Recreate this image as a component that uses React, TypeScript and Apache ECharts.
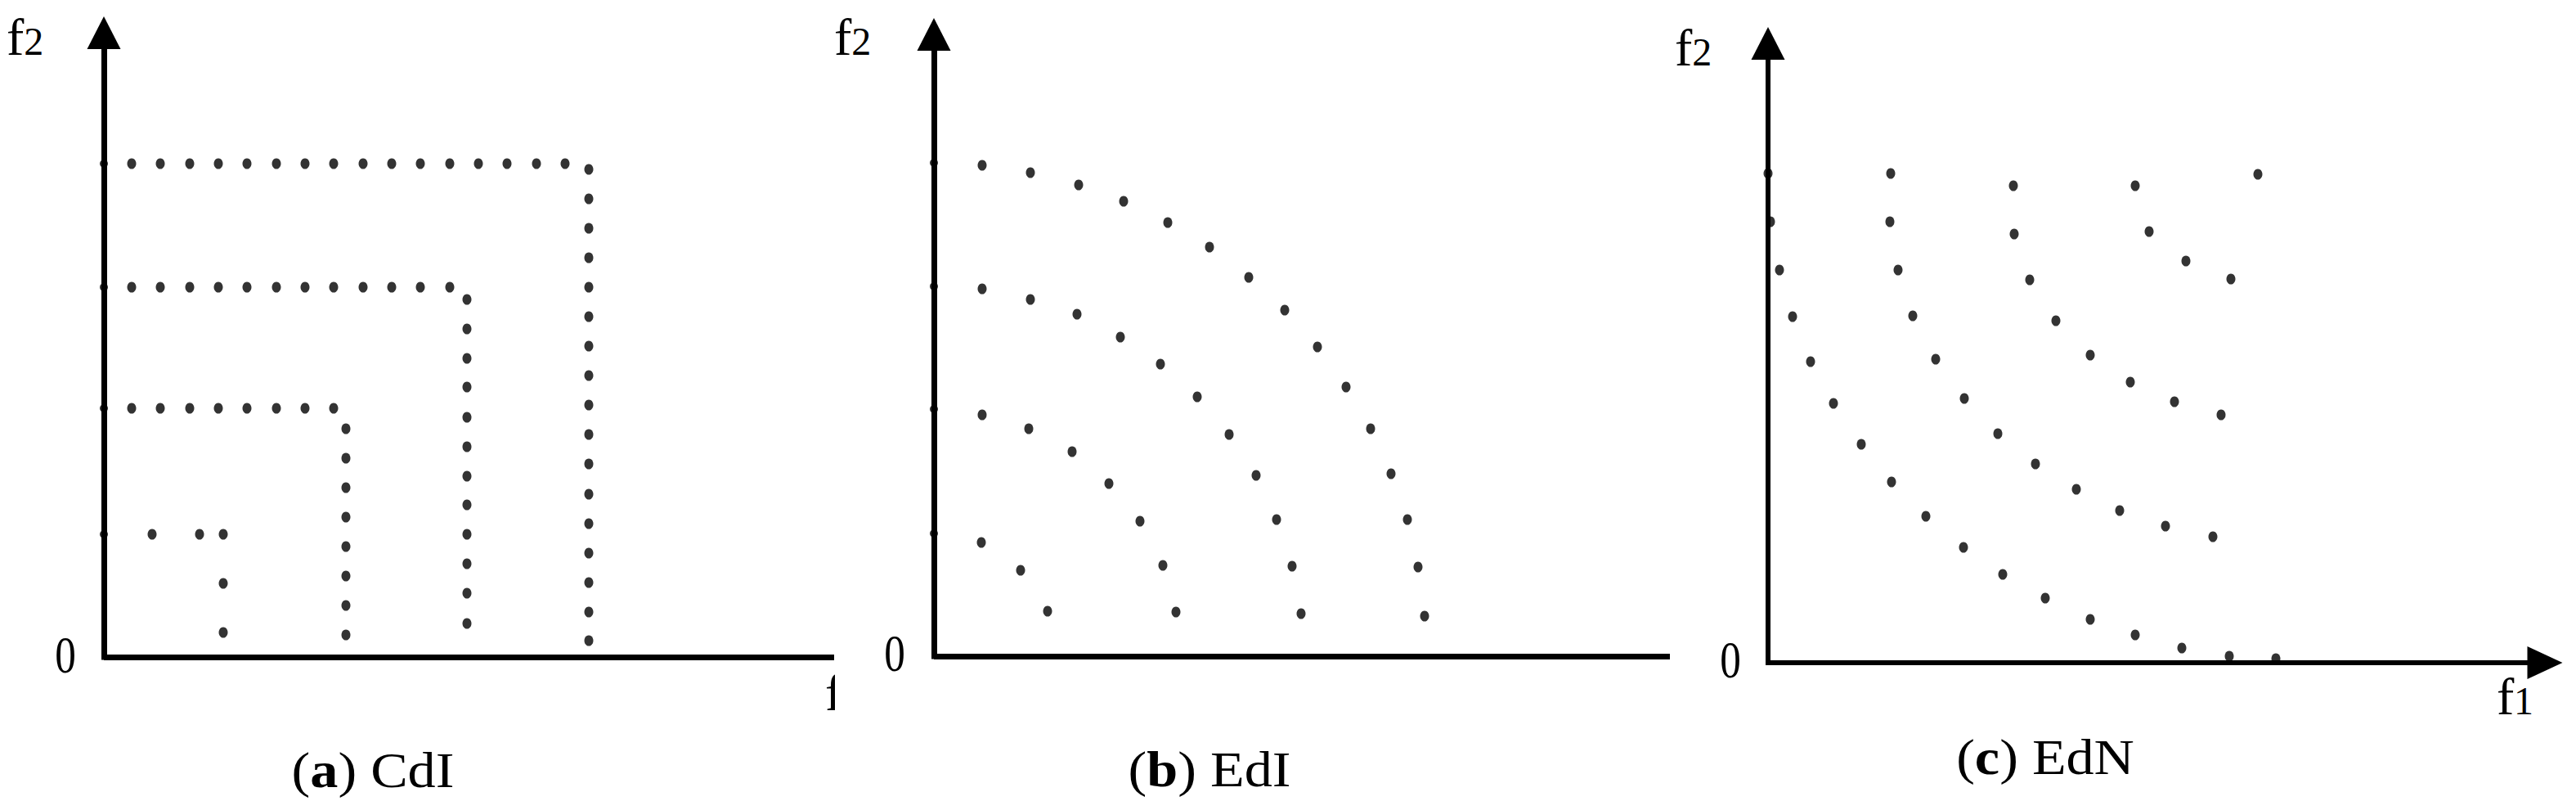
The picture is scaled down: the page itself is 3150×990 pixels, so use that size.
import React, { useEffect, useRef } from "react";
import * as echarts from "echarts";

// Values: offsets from each panel's origin (image pixel units).
// Panel (a) CdI
const cdiFront1: number[][] = [
  [34, 603], [69, 603], [105, 603], [140, 603], [175, 603], [211, 603], [246, 603], [281, 603],
  [317, 603], [352, 603], [387, 603], [423, 603], [458, 603], [493, 603], [529, 603], [564, 603],
  [593, 596], [593, 560], [593, 524], [593, 488], [593, 452], [593, 416], [593, 380], [593, 344],
  [593, 308], [593, 272], [593, 236], [593, 199], [593, 163], [593, 127], [593, 91], [593, 55], [593, 20],
];
const cdiFront2: number[][] = [
  [34, 452], [69, 452], [105, 452], [140, 452], [175, 452], [211, 452], [246, 452], [281, 452],
  [317, 452], [352, 452], [387, 452], [423, 452],
  [444, 437], [444, 401], [444, 365], [444, 330], [444, 293], [444, 257], [444, 221], [444, 186],
  [444, 150], [444, 114], [444, 78], [444, 41],
];
const cdiFront3: number[][] = [
  [34, 304], [69, 304], [105, 304], [140, 304], [175, 304], [211, 304], [246, 304], [281, 304],
  [296, 279], [296, 243], [296, 207], [296, 171], [296, 135], [296, 99], [296, 63], [296, 27],
];
const cdiFront4: number[][] = [[59, 150], [117, 150], [146, 150], [146, 90], [146, 30]];
const cdiTicks: number[][] = [[0, 603], [0, 452], [0, 304], [0, 150]];

// Panel (b) EdI
const ediFront1: number[][] = [
  [59, 600], [118, 591], [177, 576], [232, 556], [286, 530], [337, 500], [385, 463], [429, 423],
  [469, 378], [504, 329], [534, 278], [559, 223], [579, 167], [592, 109], [600, 49],
];
const ediFront2: number[][] = [
  [59, 449], [118, 436], [175, 418], [228, 390], [277, 357], [322, 317], [361, 271], [394, 221],
  [419, 167], [438, 110], [449, 52],
];
const ediFront3: number[][] = [[59, 295], [116, 278], [169, 250], [214, 211], [252, 165], [280, 111], [296, 54]];
const ediFront4: number[][] = [[58, 139], [106, 105], [139, 55]];
const ediTicks: number[][] = [[0, 603], [0, 452], [0, 302], [0, 150]];

// Panel (c) EdN
const ednFront1: number[][] = [
  [0, 598], [3, 539], [14, 480], [30, 423], [52, 368], [80, 317], [114, 267], [151, 221], [193, 179],
  [239, 141], [287, 108], [339, 79], [394, 53], [449, 34], [506, 18], [564, 8], [621, 5],
];
const ednFront2: number[][] = [
  [150, 598], [149, 539], [159, 480], [177, 424], [205, 371], [240, 323], [281, 280], [327, 243],
  [377, 212], [430, 186], [486, 167], [544, 154],
];
const ednFront3: number[][] = [[300, 583], [301, 524], [320, 468], [352, 418], [394, 376], [443, 343], [497, 319], [554, 303]];
const ednFront4: number[][] = [[449, 583], [466, 527], [511, 491], [566, 469]];
const ednFront5: number[][] = [[599, 597]];

const captions = ["a", "b", "c"];
const captionNames = ["CdI", "EdI", "EdN"];
const xMax = [893, 900, 950];
const yMax = [763, 760, 757];

const SERIF = "'Liberation Serif', 'Times New Roman', serif";

export default function App() {
  const ref = useRef<HTMLDivElement>(null);
  useEffect(() => {
    document.body.style.margin = "0";
    if (!ref.current) return;
    const chart = echarts.init(ref.current, null, { renderer: "svg" });

    const grids = [
      { left: 127, top: 40, width: 893, height: 763 },
      { left: 1142, top: 42, width: 900, height: 760 },
      { left: 2162, top: 53, width: 950, height: 757 },
    ];
    const lineW = [7, 7, 6];

    const xAxes = grids.map((_, i) => ({
      gridIndex: i,
      type: "value",
      min: 0,
      max: xMax[i],
      axisLine: {
        show: true,
        onZero: false,
        symbol: i === 2 ? ["none", "triangle"] : ["none", "none"],
        symbolSize: [40, 43],
        lineStyle: { color: "#000", width: lineW[i], cap: "butt" },
      },
      axisTick: { show: false },
      axisLabel: { show: false },
      splitLine: { show: false },
    }));
    const yAxes = grids.map((_, i) => ({
      gridIndex: i,
      type: "value",
      min: 0,
      max: yMax[i],
      axisLine: {
        show: true,
        onZero: false,
        symbol: ["none", "triangle"],
        symbolSize: [41, 40],
        lineStyle: { color: "#000", width: lineW[i], cap: "square" },
      },
      axisTick: { show: false },
      axisLabel: { show: false },
      splitLine: { show: false },
    }));

    const dot = (name: string, data: number[][], gi: number, size: number[] = [11, 13]) => ({
      name,
      type: "scatter",
      xAxisIndex: gi,
      yAxisIndex: gi,
      data,
      symbol: "circle",
      symbolSize: size,
      clip: false,
      itemStyle: { color: "#000" },
      silent: true,
    });

    const series = [
      dot("CdI front 1", cdiFront1, 0),
      dot("CdI front 2", cdiFront2, 0),
      dot("CdI front 3", cdiFront3, 0),
      dot("CdI front 4", cdiFront4, 0),
      dot("CdI ticks", cdiTicks, 0, [10, 10]),
      dot("EdI front 1", ediFront1, 1),
      dot("EdI front 2", ediFront2, 1),
      dot("EdI front 3", ediFront3, 1),
      dot("EdI front 4", ediFront4, 1),
      dot("EdI ticks", ediTicks, 1, [10, 10]),
      dot("EdN front 1", ednFront1, 2),
      dot("EdN front 2", ednFront2, 2),
      dot("EdN front 3", ednFront3, 2),
      dot("EdN front 4", ednFront4, 2),
      dot("EdN front 5", ednFront5, 2),
    ];

    const txt = (text: string, x: number, y: number, size: number, align = "left", scaleX = 1, z = 10) => ({
      type: "text",
      x,
      y,
      scaleX,
      z,
      style: {
        text,
        fill: "#000",
        font: `${size}px ${SERIF}`,
        fontSize: size,
        fontFamily: SERIF,
        textAlign: align,
        align,
        textVerticalAlign: "middle",
        verticalAlign: "middle",
      },
    });

    // f2 labels: [fLeft, baseline]
    const f2Pos = [[8, 67], [1020, 67], [2048, 80]];
    const zeroPos = [[80, 800], [1094, 798], [2116, 806]];
    const capPos = [[456, 941], [1479, 940], [2501, 925]];

    const graphics: any[] = [];
    f2Pos.forEach(([x, b]) => {
      graphics.push(txt("f", x, b - 0.3375 * 64, 64));
      graphics.push(txt("2", x + 21.3, b - 0.3375 * 48, 48));
    });
    zeroPos.forEach(([x, y]) => graphics.push(txt("0", x, y, 64, "center", 0.8)));
    // f1 on panel (c)
    graphics.push(txt("f", 3053, 873 - 0.3375 * 64, 64));
    graphics.push(txt("1", 3074, 873 - 0.3375 * 48, 48));
    // clipped f1 at the right edge of panel (a)
    graphics.push(txt("f", 1009, 868 - 0.3375 * 64, 64));
    graphics.push({
      type: "rect",
      z: 20,
      shape: { x: 1021, y: 815, width: 54, height: 65 },
      style: { fill: "#fff" },
    });
    capPos.forEach(([x, y], i) => {
      graphics.push({
        type: "text",
        x,
        y,
        scaleX: 1.1,
        z: 10,
        style: {
          text: `({b|${captions[i]}}) ${captionNames[i]}`,
          fill: "#000",
          font: `62px ${SERIF}`,
          fontSize: 62,
          fontFamily: SERIF,
          textAlign: "center",
          align: "center",
          textVerticalAlign: "middle",
          verticalAlign: "middle",
          rich: {
            b: { fontWeight: "bold", fontSize: 62, fontFamily: SERIF, fill: "#000" },
          },
        },
      });
    });

    chart.setOption({
      animation: false,
      backgroundColor: "#fff",
      grid: grids.map((g) => ({ ...g, containLabel: false })),
      xAxis: xAxes,
      yAxis: yAxes,
      series,
      graphic: graphics,
    });
    return () => chart.dispose();
  }, []);
  return <div ref={ref} style={{ width: 3150, height: 990, position: "absolute", left: 0, top: 0 }} />;
}
